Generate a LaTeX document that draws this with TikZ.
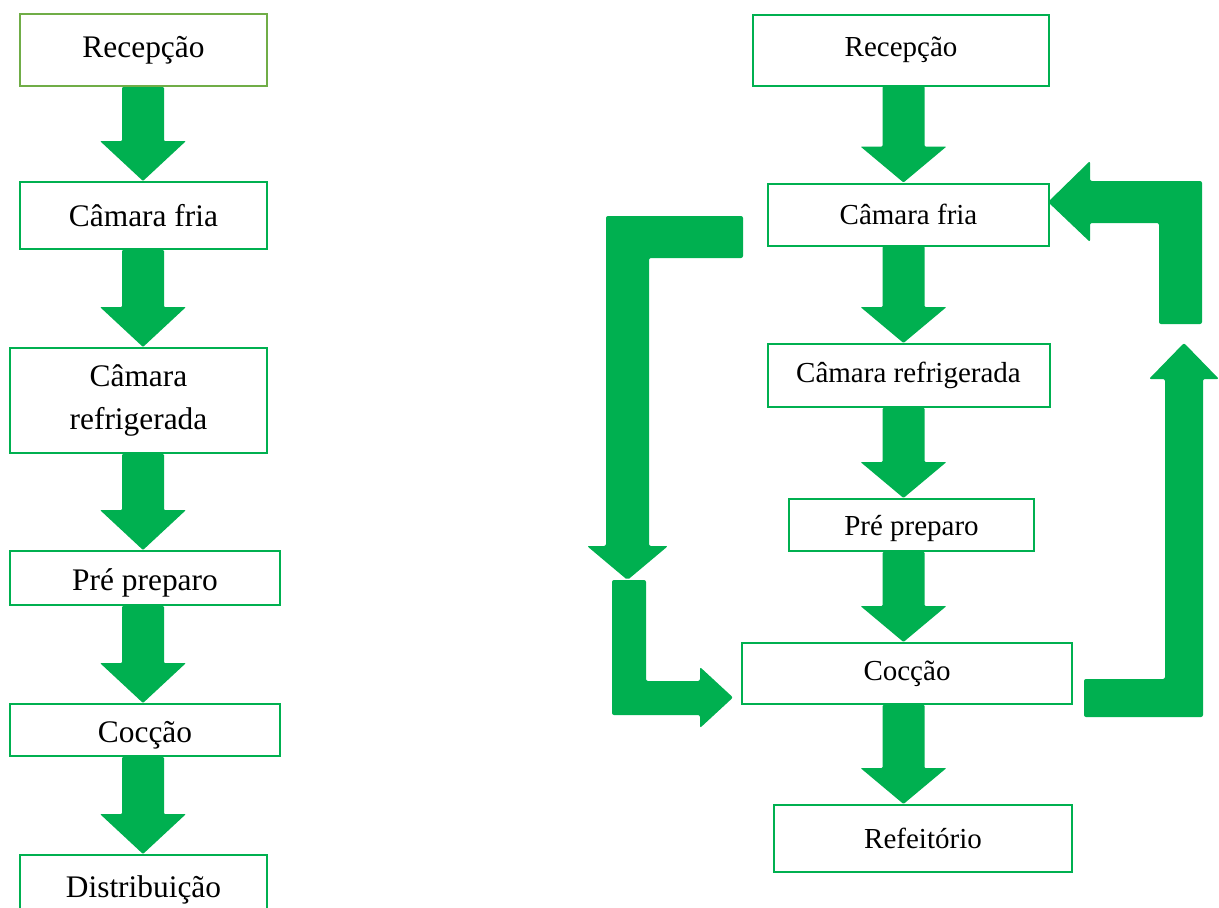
\documentclass[tikz,border=0pt]{standalone}
\usepackage{fontspec}
\setmainfont{Liberation Serif}
\usetikzlibrary{calc}
\definecolor{verde}{RGB}{0,176,80}
\definecolor{verdeclaro}{RGB}{112,173,71}
\tikzset{
  caixa/.style={draw=verde, line width=2pt, inner sep=0pt, align=center},
  seta/.style={fill=verde, rounded corners=1pt},
  letraA/.style={font=\fontsize{31.4}{43}\selectfont},
  letraB/.style={font=\fontsize{29}{35}\selectfont},
  baixa/.style={text height=#1, text depth=3pt},
}
% seta grossa para baixo: [ponta] {caixa de cima}{caixa de baixo}{eixo}
\newcommand{\setabaixo}[4][40pt]{%
  \fill[seta] let \p1=(#2.south), \p2=(#3.north), \p3=(#4) in
    (\x3-21pt,\y1) -- (\x3+21pt,\y1) -- (\x3+21pt,\y2+#1) -- (\x3+43pt,\y2+#1)
    -- (\x3,\y2) -- (\x3-43pt,\y2+#1) -- (\x3-21pt,\y2+#1) -- cycle;}

\begin{document}
\begin{tikzpicture}[x=1pt, y=-1pt]
    \useasboundingbox (0,0) rectangle (1219,908);
    \clip (0,0) rectangle (1219,908);

    % fluxo da esquerda
    \node[caixa, draw=verdeclaro, letraA, minimum width=247pt, minimum height=72pt] (recA) at (143.5,50) {Recepção};
    \node[caixa, letraA, minimum width=247pt, minimum height=67pt] (friaA) at (143.5,215.5) {Câmara fria};
    \node[caixa, letraA, minimum width=257pt, minimum height=105pt] (refrA) at (138.5,400.5) {Câmara\\refrigerada};
    \node[caixa, letraA, baixa=28pt, minimum width=270pt, minimum height=54pt] (preA) at (145,578) {Pré preparo};
    \node[caixa, letraA, baixa=28pt, minimum width=270pt, minimum height=52pt] (cocA) at (145,730) {Cocção};
    \node[caixa, letraA, minimum width=247pt, minimum height=70pt] (distA) at (143.5,890) {Distribuição};
    \coordinate (eixoA) at (143,0);

    \setabaixo{recA}{friaA}{eixoA}
    \setabaixo{friaA}{refrA}{eixoA}
    \setabaixo{refrA}{preA}{eixoA}
    \setabaixo{preA}{cocA}{eixoA}
    \setabaixo{cocA}{distA}{eixoA}

    % fluxo da direita
    \node[caixa, letraB, minimum width=296pt, minimum height=71pt] (recB) at (901,50) {Recepção};
    \node[caixa, letraB, minimum width=281pt, minimum height=62pt] (friaB) at (908.5,214.5) {Câmara fria};
    \node[caixa, letraB, minimum width=282pt, minimum height=63pt] (refrB) at (908.5,375.5) {Câmara refrigerada};
    \node[caixa, letraB, baixa=24pt, minimum width=245pt, minimum height=52pt] (preB) at (911.5,525) {Pré preparo};
    \node[caixa, letraB, minimum width=330pt, minimum height=61pt] (cocB) at (907,673.5) {Cocção};
    \node[caixa, letraB, minimum width=298pt, minimum height=67pt] (refeB) at (923,838.5) {Refeitório};
    \coordinate (eixoB) at (903.5,0);

    \setabaixo[36pt]{recB}{friaB}{eixoB}
    \setabaixo[36pt]{friaB}{refrB}{eixoB}
    \setabaixo[36pt]{refrB}{preB}{eixoB}
    \setabaixo[36pt]{preB}{cocB}{eixoB}
    \setabaixo[36pt]{cocB}{refeB}{eixoB}

    % setas dobradas
    \fill[seta, rounded corners=2pt] (606,216) -- (743,216) -- (743,258) -- (649,258) -- (649,546)
      -- (668,546) -- (627.5,580) -- (587,546) -- (606,546) -- cycle;
    \fill[seta, rounded corners=2pt] (612,580) -- (646,580) -- (646,681) -- (700,681) -- (700,667)
      -- (733,697.5) -- (700,728) -- (700,715) -- (612,715) -- cycle;
    \fill[seta, rounded corners=2pt] (1084,679) -- (1165,679) -- (1165,379) -- (1149,379)
      -- (1184,343) -- (1219,379) -- (1203,379) -- (1203,717) -- (1084,717) -- cycle;
    \fill[seta, rounded corners=2pt] (1159,324) -- (1159,223) -- (1090,223) -- (1090,242)
      -- (1048,202) -- (1090,161) -- (1090,181) -- (1202,181) -- (1202,324) -- cycle;
\end{tikzpicture}
\end{document}
